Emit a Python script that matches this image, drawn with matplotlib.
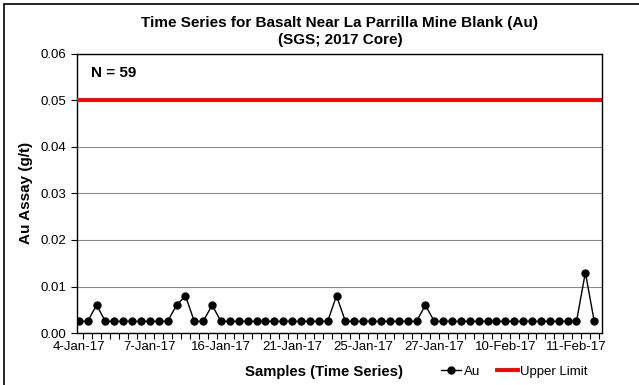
import numpy as np
import matplotlib.pyplot as plt
from matplotlib.patches import Rectangle

plt.rcParams['font.family'] = ['Liberation Sans', 'DejaVu Sans']

# Au assay values (g/t), 59 samples in time order
au = [0.0025, 0.0025, 0.006, 0.0025, 0.0025, 0.0025, 0.0025, 0.0025, 0.0025, 0.0025,
      0.0025, 0.006, 0.008, 0.0025, 0.0025, 0.006, 0.0025, 0.0025, 0.0025, 0.0025,
      0.0025, 0.0025, 0.0025, 0.0025, 0.0025, 0.0025, 0.0025, 0.0025, 0.0025, 0.008,
      0.0025, 0.0025, 0.0025, 0.0025, 0.0025, 0.0025, 0.0025, 0.0025, 0.0025, 0.006,
      0.0025, 0.0025, 0.0025, 0.0025, 0.0025, 0.0025, 0.0025, 0.0025, 0.0025, 0.0025,
      0.0025, 0.0025, 0.0025, 0.0025, 0.0025, 0.0025, 0.0025, 0.013, 0.0025]
upper_limit = 0.05
# labels shown every 8th sample
tick_labels = ['4-Jan-17', '7-Jan-17', '16-Jan-17', '21-Jan-17', '25-Jan-17',
               '27-Jan-17', '10-Feb-17', '11-Feb-17']
label_step = 8

fig = plt.figure(figsize=(6.39, 3.85), dpi=100)
ax = fig.add_axes([0.1205, 0.135, 0.822, 0.725])

x = np.arange(len(au))
ax.axhline(upper_limit, color='#ff0000', lw=2.8, zorder=3, label='Upper Limit')
ax.plot(x, au, color='black', lw=1, marker='o', markersize=5, zorder=4, label='Au')

ax.set_xlim(-0.2, len(au) - 0.1)
ax.set_ylim(0, 0.06)
ax.set_yticks(np.arange(0, 0.061, 0.01))
ax.yaxis.set_major_formatter(plt.FormatStrFormatter('%.2f'))
ax.yaxis.grid(True, color='#8c8c8c', lw=0.8)
ax.set_axisbelow(True)

ax.set_xticks(np.arange(0.5, len(au), 1), minor=True)
ax.set_xticks(x[::label_step])
ax.set_xticklabels(tick_labels)
ax.tick_params(axis='x', which='major', length=0, labelsize=9.5, pad=6)
ax.tick_params(axis='x', which='minor', length=4, width=0.8, direction='out')
ax.tick_params(axis='y', labelsize=9.5, length=4, width=0.8)
for s in ax.spines.values():
    s.set_color('black')
    s.set_linewidth(1)

ax.text(0.027, 0.955, 'N = 59', transform=ax.transAxes, fontsize=11,
        fontweight='bold', va='top')

fig.text(0.532, 0.94, 'Time Series for Basalt Near La Parrilla Mine Blank (Au)',
         ha='center', va='center', fontsize=11, fontweight='bold')
fig.text(0.532, 0.895, '(SGS; 2017 Core)', ha='center', va='center',
         fontsize=11, fontweight='bold')
fig.text(0.04, 0.5, 'Au Assay (g/t)', rotation=90, ha='center', va='center',
         fontsize=11, fontweight='bold')
fig.text(0.507, 0.034, 'Samples (Time Series)', ha='center', va='center',
         fontsize=10.7, fontweight='bold')

h, l = ax.get_legend_handles_labels()
fig.legend(h[::-1], l[::-1], loc='center', bbox_to_anchor=(0.805, 0.034), ncol=2,
           frameon=False, fontsize=9.5, handlelength=1.55, handletextpad=0.2,
           columnspacing=1.3, borderpad=0)

fig.patches.append(Rectangle((0.006, -0.02), 1.1, 1.0 - 0.011 + 0.02,
                             transform=fig.transFigure, fill=False,
                             edgecolor='black', lw=1.2))

fig.savefig('out.png', dpi=100)
